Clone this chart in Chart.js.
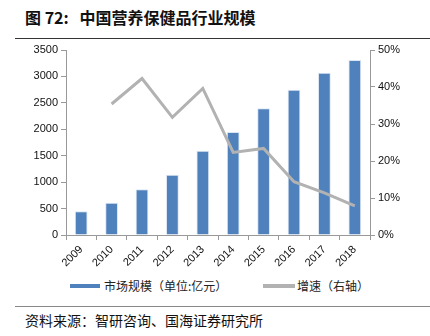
<!DOCTYPE html>
<html>
<head>
<meta charset="utf-8">
<script src="https://cdn.jsdelivr.net/npm/chart.js@4"></script>
<style>
    body { margin: 0; width: 430px; height: 336px; background: #fff; position: relative; overflow: hidden; font-family: "Noto Sans CJK SC", sans-serif; }
    #title { position: absolute; left: 25px; top: 5px; font-size: 16px; font-weight: bold; color: #111; white-space: nowrap; }
    #titleLine { position: absolute; left: 15px; top: 38px; width: 415px; height: 1px; background: #333; }
    #chartBox { position: absolute; left: 0; top: 40px; width: 430px; height: 235px; }
    .legend { position: absolute; top: 277px; font-size: 12px; color: #222; white-space: nowrap; }
    .swatch { position: absolute; top: 284px; height: 4px; }
    #footLine { position: absolute; left: 15px; top: 306px; width: 415px; height: 1px; background: #888; }
    #source { position: absolute; left: 25px; top: 310px; font-size: 14px; color: #111; white-space: nowrap; }
</style>
</head>
<body>
<div id="title">图 72:&nbsp;&nbsp; 中国营养保健品行业规模</div>
<div id="titleLine"></div>
<div id="chartBox"><canvas id="MarketChart"></canvas></div>
<div class="swatch" style="left:70px;width:30px;background:#4F81BD;"></div>
<div class="legend" style="left:104px;">市场规模（单位:亿元）</div>
<div class="swatch" style="left:263px;width:32px;background:#B2B2B2;"></div>
<div class="legend" style="left:297px;">增速（右轴）</div>
<div id="footLine"></div>
<div id="source">资料来源：智研咨询、国海证券研究所</div>

<script>
var years = ['2009', '2010', '2011', '2012', '2013', '2014', '2015', '2016', '2017', '2018'];
var marketSize = [450, 610, 865, 1140, 1595, 1950, 2400, 2750, 3070, 3310];
var growthRate = [null, 35.4, 42.3, 31.8, 39.6, 22.3, 23.4, 14.4, 11.4, 7.9];

var labelColor = '#111';
var axisColor = '#999';
var fontFamily = '"Liberation Sans", Arial, sans-serif';

var ctx = document.getElementById('MarketChart');

new Chart(ctx, {
    type: 'bar',
    data: {
        labels: years,
        datasets: [{
            type: 'line',
            label: '增速（右轴）',
            data: growthRate,
            yAxisID: 'y1',
            borderColor: '#B2B2B2',
            borderWidth: 3,
            pointRadius: 0,
            tension: 0,
            order: 0
        }, {
            type: 'bar',
            label: '市场规模（单位:亿元）',
            data: marketSize,
            yAxisID: 'y',
            backgroundColor: '#4F81BD',
            borderColor: '#DCE6F2',
            borderWidth: 1,
            barPercentage: 0.42,
            categoryPercentage: 1,
            order: 1
        }]
    },
    options: {
        responsive: true,
        maintainAspectRatio: false,
        animation: false,
        layout: {
            padding: { top: 10, left: 0, right: 0, bottom: 0 }
        },
        plugins: {
            legend: { display: false },
            tooltip: { enabled: false }
        },
        scales: {
            x: {
                offset: true,
                grid: {
                    offset: true,
                    drawOnChartArea: false,
                    tickLength: 5,
                    color: axisColor
                },
                border: { color: axisColor },
                ticks: {
                    minRotation: 45,
                    maxRotation: 45,
                    color: labelColor,
                    font: { family: fontFamily, size: 11 }
                },
                afterFit: function (scale) { scale.height = 40; }
            },
            y: {
                position: 'left',
                min: 0,
                max: 3500,
                ticks: {
                    stepSize: 500,
                    color: labelColor,
                    font: { family: fontFamily, size: 11 },
                    callback: function (v) { return String(v); }
                },
                grid: {
                    drawOnChartArea: false,
                    tickLength: 5,
                    color: axisColor
                },
                border: { color: axisColor },
                afterFit: function (scale) { scale.width = 66; }
            },
            y1: {
                position: 'right',
                min: 0,
                max: 50,
                ticks: {
                    stepSize: 10,
                    color: labelColor,
                    font: { family: fontFamily, size: 11 },
                    callback: function (v) { return v + '%'; }
                },
                grid: {
                    drawOnChartArea: false,
                    tickLength: 5,
                    color: axisColor
                },
                border: { color: axisColor },
                afterFit: function (scale) { scale.width = 60; }
            }
        }
    }
});
</script>
</body>
</html>
